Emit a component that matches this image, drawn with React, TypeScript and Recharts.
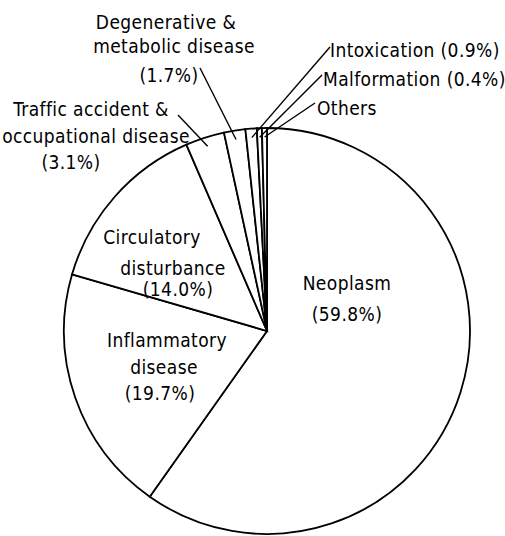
import React from "react";
import { PieChart, Pie, Cell } from "recharts";

const categories = [
  "Neoplasm",
  "Inflammatory disease",
  "Circulatory disturbance",
  "Traffic accident & occupational disease",
  "Degenerative & metabolic disease",
  "Intoxication",
  "Malformation",
  "Others",
];
const shares = [59.8, 19.7, 14.0, 3.1, 1.7, 0.9, 0.4, 0.4];

const labelLines: string[][] = [
  ["Neoplasm", "(59.8%)"],
  ["Inflammatory", "disease", "(19.7%)"],
  ["Circulatory", "disturbance", "(14.0%)"],
  ["Traffic accident &", "occupational disease", "(3.1%)"],
  ["Degenerative &", "metabolic disease", "(1.7%)"],
  ["Intoxication (0.9%)"],
  ["Malformation (0.4%)"],
  ["Others"],
];

const data = categories.map((name, i) => ({ name, value: shares[i] }));

// label placement, offsets from the pie centre
const LAYOUT: { anchor: "middle" | "start"; lines: [number, number][]; leader?: [number, number] }[] = [
  { anchor: "middle", lines: [[80, -48], [80, -17]] },
  { anchor: "middle", lines: [[-100, 9], [-103, 36], [-107, 62]] },
  { anchor: "middle", lines: [[-115, -94], [-94, -63], [-89, -42]] },
  { anchor: "middle", lines: [[-176, -222], [-171, -195], [-196, -169]], leader: [-89, -216] },
  { anchor: "middle", lines: [[-101, -309], [-93, -285], [-98, -256]], leader: [-67, -263] },
  { anchor: "start", lines: [[63, -281]], leader: [63, -284] },
  { anchor: "start", lines: [[56, -252]], leader: [55, -256] },
  { anchor: "start", lines: [[50, -223]], leader: [48, -228] },
];

const RADIAN = Math.PI / 180;

function renderLabel(props: any) {
  const { cx, cy, midAngle, outerRadius, index } = props;
  const lay = LAYOUT[index];
  const texts = labelLines[index];
  let leader = null;
  if (lay.leader) {
    const r = outerRadius - 9;
    const sx = cx + r * Math.cos(-midAngle * RADIAN);
    const sy = cy + r * Math.sin(-midAngle * RADIAN);
    leader = (
      <line
        x1={sx}
        y1={sy}
        x2={cx + lay.leader[0]}
        y2={cy + lay.leader[1]}
        stroke="#000"
        strokeWidth={1.4}
      />
    );
  }
  return (
    <g key={`lbl-${index}`}>
      {leader}
      {texts.map((t, j) => (
        <text
          key={j}
          x={cx + lay.lines[j][0]}
          y={cy + lay.lines[j][1]}
          textAnchor={lay.anchor}
          dominantBaseline="central"
          fill="#000"
          fontSize={19}
          letterSpacing={0.4}
          fontFamily="'DejaVu Sans Condensed', 'DejaVu Sans', sans-serif"
        >
          {t}
        </text>
      ))}
    </g>
  );
}

export default function App() {
  return (
    <div style={{ position: "absolute", left: 0, top: 0, width: 505, height: 536, background: "#fff" }}>
      <PieChart width={505} height={536} margin={{ top: 0, right: 0, bottom: 0, left: 0 }}>
        <Pie
          data={data}
          dataKey="value"
          nameKey="name"
          cx={267}
          cy={331}
          outerRadius={203}
          startAngle={90}
          endAngle={-270}
          stroke="#000"
          strokeWidth={1.8}
          label={renderLabel}
          labelLine={false}
          isAnimationActive={false}
        >
          {data.map((_, index) => (
            <Cell key={`cell-${index}`} fill="#fff" />
          ))}
        </Pie>
      </PieChart>
    </div>
  );
}
